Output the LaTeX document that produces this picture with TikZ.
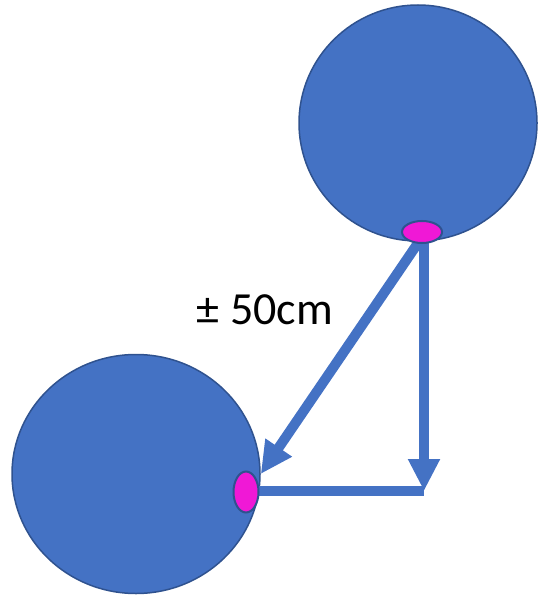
\documentclass[tikz,border=0pt]{standalone}
\usepackage{fontspec}
\setmainfont{Carlito}
\usetikzlibrary{arrows.meta,shapes.geometric}
\definecolor{ballblue}{HTML}{4472C4}
\definecolor{balledge}{HTML}{2F528F}
\definecolor{eyepink}{RGB}{240,24,214}
\tikzset{
  ball/.style={ellipse, fill=ballblue, draw=balledge, line width=1.5pt, inner sep=0pt},
  eye/.style={ellipse, fill=eyepink, draw=balledge, line width=2pt, inner sep=0pt},
  ray/.style={draw=ballblue, line width=10pt},
  raytip/.style={-{Triangle[length=32pt,width=30pt]}}
}
\begin{document}
\begin{tikzpicture}[x=1pt, y=-1pt, every node/.style={font=\fontsize{46}{52}\selectfont}]
    \useasboundingbox (0,0) rectangle (543,596);

    % Kugeln
    \node[ball, minimum width=238pt, minimum height=236pt] (topball) at (418,123) {};
    \node[ball, minimum width=248pt, minimum height=239pt] (botball) at (136,474) {};

    % Strahlen
    \coordinate (diagstart) at (418,243);
    \coordinate (vertstart) at (424,243);
    \coordinate (corner) at (424,491);
    \draw[ray, raytip] (diagstart) -- (botball.east);
    \draw[ray, raytip] (vertstart) -- (corner);
    \draw[ray] (258,491) -- (corner);

    % Punkte
    \node[eye, minimum width=40pt, minimum height=22pt] (topeye) at (422,232) {};
    \node[eye, minimum width=25pt, minimum height=41pt] (boteye) at (246,492) {};

    \node (dist) at (265,310) {± 50cm};
\end{tikzpicture}
\end{document}
